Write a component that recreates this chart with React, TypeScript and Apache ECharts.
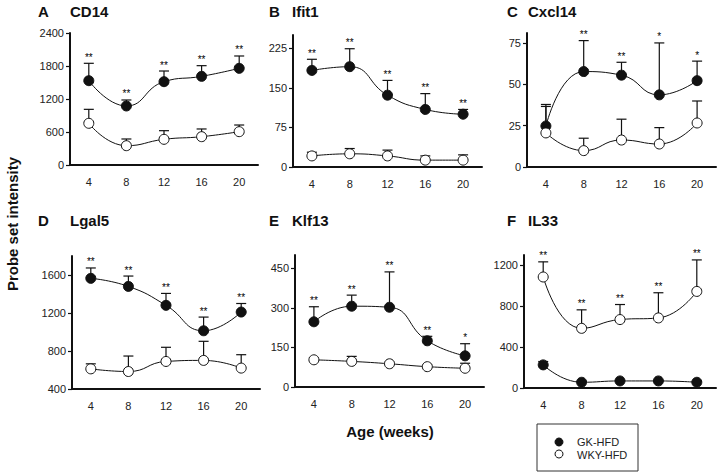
import React, { useEffect, useRef } from "react";
import * as echarts from "echarts";

const weeks = ["4", "8", "12", "16", "20"];

// CD14
const cd14Gk = [1533, 1073, 1515, 1612, 1758];
const cd14GkErr = [316, 109, 194, 194, 224];
const cd14Wky = [758, 351, 467, 515, 606];
const cd14WkyErr = [254, 122, 157, 140, 121];
const cd14Stars = ["**", "**", "**", "**", "**"];
const cd14Ticks = [0, 600, 1200, 1800, 2400];

// Ifit1
const ifit1Gk = [183, 190, 136, 109, 100];
const ifit1GkErr = [21, 34, 28, 30, 9];
const ifit1Wky = [21, 25, 21, 13, 13];
const ifit1WkyErr = [7, 10, 11, 8, 10];
const ifit1Stars = ["**", "**", "**", "**", "**"];
const ifit1Ticks = [0, 75, 150, 225];

// Cxcl14
const cxcl14Gk = [24.8, 57.7, 55.5, 43.6, 52.2];
const cxcl14GkErr = [13, 18.7, 7.8, 31.4, 11.8];
const cxcl14Wky = [20.6, 9.9, 16.3, 13.9, 26.6];
const cxcl14WkyErr = [16, 7.5, 12.6, 9.9, 13.3];
const cxcl14Stars = ["", "**", "**", "*", "*"];
const cxcl14Ticks = [0, 25, 50, 75];

// Lgal5
const lgal5Gk = [1565, 1480, 1281, 1013, 1210];
const lgal5GkErr = [109, 109, 125, 144, 90];
const lgal5Wky = [612, 584, 690, 701, 620];
const lgal5WkyErr = [53, 163, 149, 201, 141];
const lgal5Stars = ["**", "**", "**", "**", "**"];
const lgal5Ticks = [400, 800, 1200, 1600];

// Klf13
const klf13Gk = [247, 306, 302, 175, 118];
const klf13GkErr = [57, 42, 134, 17, 46];
const klf13Wky = [103, 97, 88, 77, 71];
const klf13WkyErr = [8, 19, 6, 6, 19];
const klf13Stars = ["**", "**", "**", "**", "*"];
const klf13Ticks = [0, 150, 300, 450];

// IL33
const il33Gk = [226, 56, 69, 69, 56];
const il33GkErr = [33, 8, 8, 8, 8];
const il33Wky = [1085, 583, 669, 685, 944];
const il33WkyErr = [148, 181, 147, 246, 308];
const il33Stars = ["**", "**", "**", "**", "**"];
const il33Ticks = [0, 400, 800, 1200];

const FONT = '"Liberation Sans", Arial, sans-serif';

type Panel = {
  letter: string;
  name: string;
  gk: number[];
  gkErr: number[];
  wky: number[];
  wkyErr: number[];
  stars: string[];
  starsOn: "gk" | "wky";
  ticks: number[];
  min: number;
  max: number;
  grid: { left: number; top: number; width: number; height: number };
  titleY: number;
  letterX: number;
  nameX: number;
};

const panels: Panel[] = [
  { letter: "A", name: "CD14", gk: cd14Gk, gkErr: cd14GkErr, wky: cd14Wky, wkyErr: cd14WkyErr, stars: cd14Stars, starsOn: "gk", ticks: cd14Ticks, min: 0, max: 2400, grid: { left: 70, top: 33, width: 188, height: 132 }, titleY: 11, letterX: 38, nameX: 70 },
  { letter: "B", name: "Ifit1", gk: ifit1Gk, gkErr: ifit1GkErr, wky: ifit1Wky, wkyErr: ifit1WkyErr, stars: ifit1Stars, starsOn: "gk", ticks: ifit1Ticks, min: 0, max: 250, grid: { left: 293, top: 35, width: 189, height: 132 }, titleY: 11, letterX: 269, nameX: 292 },
  { letter: "C", name: "Cxcl14", gk: cxcl14Gk, gkErr: cxcl14GkErr, wky: cxcl14Wky, wkyErr: cxcl14WkyErr, stars: cxcl14Stars, starsOn: "gk", ticks: cxcl14Ticks, min: 0, max: 81, grid: { left: 527, top: 33, width: 189, height: 134 }, titleY: 11, letterX: 507, nameX: 528 },
  { letter: "D", name: "Lgal5", gk: lgal5Gk, gkErr: lgal5GkErr, wky: lgal5Wky, wkyErr: lgal5WkyErr, stars: lgal5Stars, starsOn: "gk", ticks: lgal5Ticks, min: 400, max: 1800, grid: { left: 72, top: 256, width: 188, height: 133 }, titleY: 220, letterX: 38, nameX: 70 },
  { letter: "E", name: "Klf13", gk: klf13Gk, gkErr: klf13GkErr, wky: klf13Wky, wkyErr: klf13WkyErr, stars: klf13Stars, starsOn: "gk", ticks: klf13Ticks, min: 0, max: 500, grid: { left: 295, top: 255, width: 189, height: 132 }, titleY: 220, letterX: 269, nameX: 292 },
  { letter: "F", name: "IL33", gk: il33Gk, gkErr: il33GkErr, wky: il33Wky, wkyErr: il33WkyErr, stars: il33Stars, starsOn: "wky", ticks: il33Ticks, min: 0, max: 1300, grid: { left: 524, top: 255, width: 192, height: 133 }, titleY: 220, letterX: 507, nameX: 528 },
];

function errorSeries(idx: number, means: number[], errs: number[], stars: string[]) {
  return {
    type: "custom",
    xAxisIndex: idx,
    yAxisIndex: idx,
    z: 2,
    silent: true,
    data: means.map((m, i) => [i, m, errs[i]]),
    renderItem: (params: any, api: any) => {
      const x = api.value(0);
      const m = api.value(1);
      const e = api.value(2);
      const p0 = api.coord([x, m]);
      const p1 = api.coord([x, m + e]);
      const star = stars[params.dataIndex] || "";
      const children: any[] = [
        { type: "line", shape: { x1: p0[0], y1: p0[1], x2: p1[0], y2: p1[1] }, style: { stroke: "#111", lineWidth: 1.2 } },
        { type: "line", shape: { x1: p1[0] - 5, y1: p1[1], x2: p1[0] + 5, y2: p1[1] }, style: { stroke: "#111", lineWidth: 1.2 } },
      ];
      if (star) {
        children.push({
          type: "text",
          x: p1[0],
          y: p1[1] - 1,
          style: { text: star, fontSize: 10, fontFamily: FONT, fill: "#000", align: "center", verticalAlign: "bottom" },
        });
      }
      return { type: "group", children };
    },
  };
}

export default function App() {
  const ref = useRef<HTMLDivElement>(null);
  useEffect(() => {
    if (!ref.current) return;
    const chart = echarts.init(ref.current, undefined, { renderer: "svg" });
    const grid: any[] = [];
    const xAxis: any[] = [];
    const yAxis: any[] = [];
    const series: any[] = [];
    const graphic: any[] = [];
    panels.forEach((p, i) => {
      grid.push({ ...p.grid, containLabel: false });
      xAxis.push({
        type: "category",
        gridIndex: i,
        data: weeks,
        boundaryGap: true,
        axisLine: { onZero: false, lineStyle: { color: "#111", width: 2 } },
        axisTick: { show: false },
        axisLabel: { color: "#222", fontSize: 11, fontFamily: FONT, margin: 11 },
        splitLine: { show: false },
      });
      yAxis.push({
        type: "value",
        gridIndex: i,
        min: p.min,
        max: p.max,
        axisLine: { show: true, lineStyle: { color: "#111", width: 2 } },
        axisTick: { show: true, length: 4, lineStyle: { color: "#111", width: 1.2 }, customValues: p.ticks },
        axisLabel: {
          color: "#222",
          fontSize: 11,
          fontFamily: FONT,
          margin: 6,
          customValues: p.ticks,
          formatter: (v: number) => String(v),
        },
        splitLine: { show: false },
      });
      const starsGk = p.starsOn === "gk" ? p.stars : [];
      const starsWky = p.starsOn === "wky" ? p.stars : [];
      series.push(errorSeries(i, p.gk, p.gkErr, starsGk));
      series.push(errorSeries(i, p.wky, p.wkyErr, starsWky));
      series.push({
        type: "line",
        name: "GK-HFD",
        xAxisIndex: i,
        yAxisIndex: i,
        z: 3,
        data: p.gk,
        smooth: 0.5,
        symbol: "circle",
        symbolSize: 10,
        lineStyle: { color: "#111", width: 1 },
        itemStyle: { color: "#111", borderColor: "#111", borderWidth: 1 },
      });
      series.push({
        type: "line",
        name: "WKY-HFD",
        xAxisIndex: i,
        yAxisIndex: i,
        z: 3,
        data: p.wky,
        smooth: 0.5,
        symbol: "circle",
        symbolSize: 10,
        lineStyle: { color: "#111", width: 1 },
        itemStyle: { color: "#fff", borderColor: "#111", borderWidth: 1 },
      });
      graphic.push({
        type: "text",
        x: p.letterX,
        y: p.titleY,
        style: { text: p.letter, fontSize: 15, fontWeight: "bold", fontFamily: FONT, fill: "#111", verticalAlign: "middle" },
      });
      graphic.push({
        type: "text",
        x: p.nameX,
        y: p.titleY,
        style: { text: p.name, fontSize: 15, fontWeight: "bold", fontFamily: FONT, fill: "#111", verticalAlign: "middle" },
      });
    });
    graphic.push({
      type: "text",
      x: 12,
      y: 224,
      rotation: Math.PI / 2,
      style: { text: "Probe set intensity", fontSize: 15, fontWeight: "bold", fontFamily: FONT, fill: "#111", align: "center", verticalAlign: "middle" },
    });
    graphic.push({
      type: "text",
      x: 390,
      y: 431,
      style: { text: "Age (weeks)", fontSize: 15, fontWeight: "bold", fontFamily: FONT, fill: "#111", align: "center", verticalAlign: "middle" },
    });
    graphic.push({
      type: "group",
      children: [
        { type: "rect", shape: { x: 537, y: 424, width: 101, height: 47 }, style: { fill: "#fff", stroke: "#333", lineWidth: 1 } },
        { type: "circle", shape: { cx: 559, cy: 442, r: 4 }, style: { fill: "#111", stroke: "#111", lineWidth: 1 } },
        { type: "circle", shape: { cx: 559, cy: 454, r: 4 }, style: { fill: "#fff", stroke: "#111", lineWidth: 1 } },
        { type: "text", x: 577, y: 442, style: { text: "GK-HFD", fontSize: 11, fontFamily: FONT, fill: "#222", verticalAlign: "middle" } },
        { type: "text", x: 577, y: 455, style: { text: "WKY-HFD", fontSize: 11, fontFamily: FONT, fill: "#222", verticalAlign: "middle" } },
      ],
    });
    chart.setOption({
      animation: false,
      backgroundColor: "#fff",
      grid,
      xAxis,
      yAxis,
      series,
      graphic,
    });
    return () => chart.dispose();
  }, []);
  return <div ref={ref} style={{ position: "fixed", left: 0, top: 0, width: 722, height: 476 }} />;
}
